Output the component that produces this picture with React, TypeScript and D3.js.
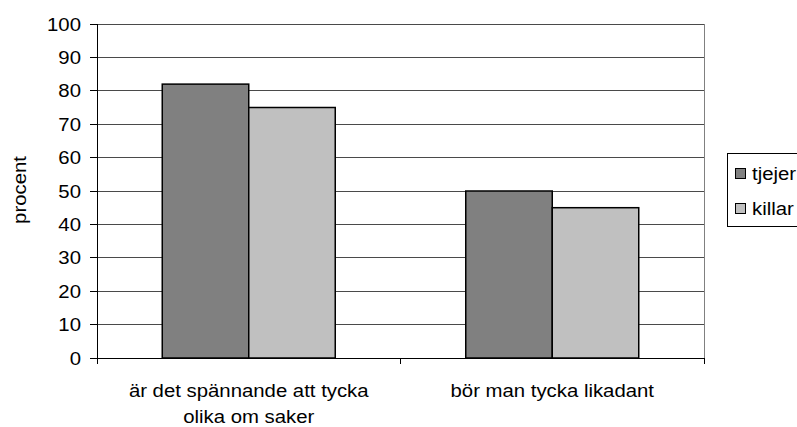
import React from "react";
import * as d3 from "d3";

const categories = ["är det spännande att tycka olika om saker", "bör man tycka likadant"];
const categoryLines = [["är det spännande att tycka", "olika om saker"], ["bör man tycka likadant"]];
const seriesNames = ["tjejer", "killar"];
const tjejer = [82, 50];
const killar = [75, 45];
const yTicks = [0, 10, 20, 30, 40, 50, 60, 70, 80, 90, 100];
const colors = ["#808080", "#C0C0C0"];

export default function App() {
  const W = 797, H = 427;
  const left = 97, right = 704, top = 24, bottom = 358;
  const x0 = d3.scaleBand<string>().domain(categories).range([left, right]).paddingInner(0).paddingOuter(0);
  const y = d3.scaleLinear().domain([0, 100]).range([bottom, top]);
  const barW = 86.5;
  const series = [tjejer, killar];
  const font = "Liberation Sans, Arial, sans-serif";
  const fs = 18.5;
  const sx = 1.1;
  const T = (props: { x: number; y: number; anchor?: string; dy?: string; children: React.ReactNode }) => (
    <text transform={`translate(${props.x},${props.y}) scale(${sx},1)`} textAnchor={props.anchor || "start"} dy={props.dy} fontSize={fs}>
      {props.children}
    </text>
  );
  return (
    <svg width={W} height={H} style={{ position: "absolute", left: 0, top: 0 }} fontFamily={font}>
      <rect width={W} height={H} fill="#fff" />
      {yTicks.map((t) => (
        <g key={t}>
          {t > 0 && <line x1={left} x2={right} y1={y(t)} y2={y(t)} stroke="#4a4a4a" strokeWidth={1} shapeRendering="crispEdges" />}
          <line x1={left - 7} x2={left} y1={y(t)} y2={y(t)} stroke="#000" shapeRendering="crispEdges" />
          <T x={left - 16} y={y(t)} anchor="end" dy="0.36em">{t}</T>
        </g>
      ))}
      <line x1={right} x2={right} y1={top} y2={bottom} stroke="#808080" shapeRendering="crispEdges" />
      <line x1={left} x2={left} y1={top} y2={bottom} stroke="#000" shapeRendering="crispEdges" />
      {categories.map((c, i) => {
        const cx = (x0(c) as number) + x0.bandwidth() / 2;
        return (
          <g key={c}>
            {series.map((s, j) => (
              <rect key={j} x={cx - barW + j * barW} y={y(s[i])} width={barW} height={bottom - y(s[i])}
                fill={colors[j]} stroke="#000" strokeWidth={1.5} />
            ))}
            {categoryLines[i].map((ln, k) => (
              <T key={k} x={cx} y={396.5 + k * 26.5} anchor="middle">{ln}</T>
            ))}
          </g>
        );
      })}
      <line x1={left} x2={right} y1={bottom} y2={bottom} stroke="#000" shapeRendering="crispEdges" />
      {[0, 1, 2].map((i) => {
        const xx = left + i * x0.bandwidth();
        return <line key={i} x1={xx} x2={xx} y1={bottom} y2={bottom + 6} stroke="#000" shapeRendering="crispEdges" />;
      })}
      <text transform={`translate(19,190) rotate(-90) scale(${sx},1)`} textAnchor="middle" dy="0.36em" fontSize={fs}>procent</text>
      <rect x={727.5} y={153.5} width={100} height={73} fill="#fff" stroke="#000" />
      {seriesNames.map((n, j) => (
        <g key={n}>
          <rect x={735.5} y={168.5 + j * 35} width={10} height={10} fill={colors[j]} stroke="#000" />
          <T x={752} y={173.5 + j * 35} dy="0.36em">{n}</T>
        </g>
      ))}
    </svg>
  );
}
